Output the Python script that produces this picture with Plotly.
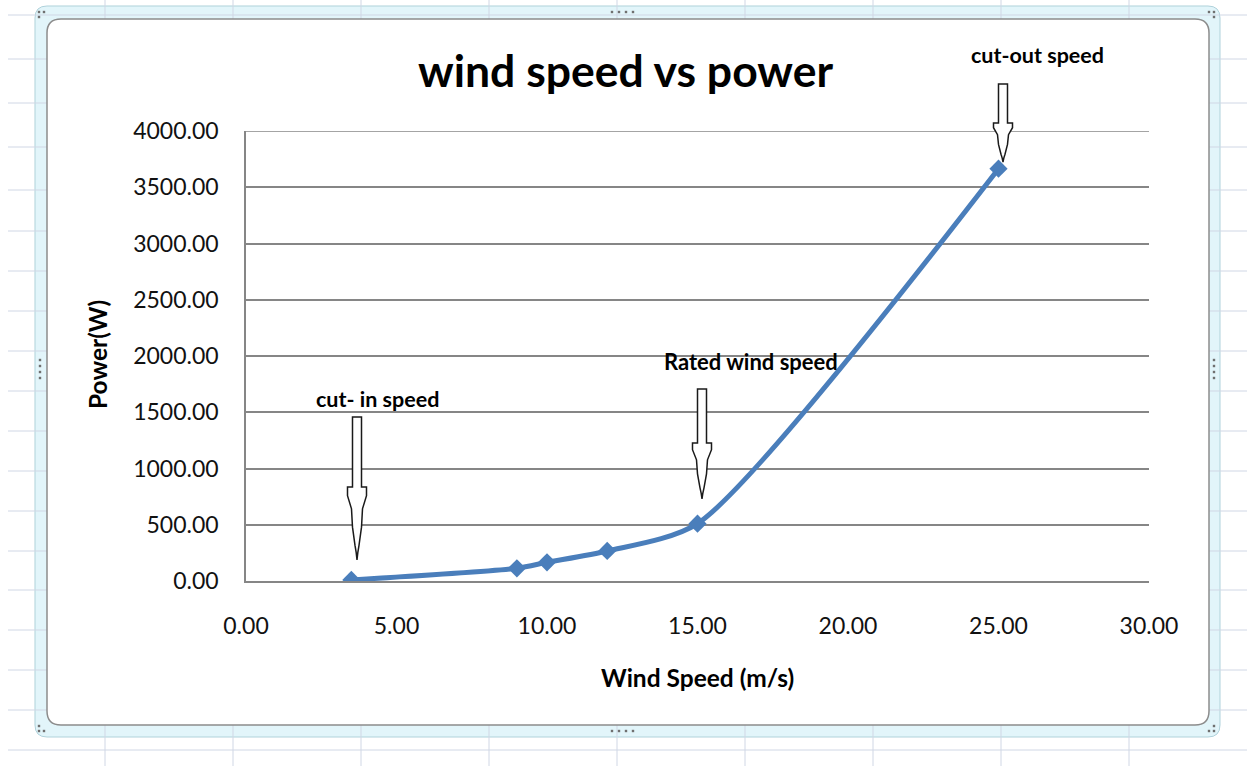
import plotly.graph_objects as go

# ---- data ----
wind_speed = [3.5, 9.0, 10.0, 12.0, 15.0, 25.0]
power_w = [10, 113, 166, 267, 510, 3665]

x_ticks = [0, 5, 10, 15, 20, 25, 30]
y_ticks = [0, 500, 1000, 1500, 2000, 2500, 3000, 3500, 4000]

title_text = "wind speed vs power"
x_title = "Wind Speed (m/s)"
y_title = "Power(W)"
note_labels = ["cut- in speed", "Rated wind speed", "cut-out speed"]

# ---- geometry (pixels) ----
W, H = 1247, 766
PL, PR, PT, PB = 246, 1149, 131, 581
PW, PH = PR - PL, PB - PT


def P(px, py):
    return ((px - PL) / PW, (PB - py) / PH)


def path_of(points, close=True):
    s = ""
    for cmd, pts in points:
        s += cmd + " " + " ".join(f"{P(a, b)[0]:.5f},{P(a, b)[1]:.5f}" for a, b in pts) + " "
    if close:
        s += "Z"
    return s


def rrect(x0, y0, x1, y1, r):
    return path_of([
        ("M", [(x0 + r, y0)]), ("L", [(x1 - r, y0)]), ("Q", [(x1, y0), (x1, y0 + r)]),
        ("L", [(x1, y1 - r)]), ("Q", [(x1, y1), (x1 - r, y1)]),
        ("L", [(x0 + r, y1)]), ("Q", [(x0, y1), (x0, y1 - r)]),
        ("L", [(x0, y0 + r)]), ("Q", [(x0, y0), (x0 + r, y0)]),
    ])


def arrow(cx, top, sh, tip):
    h = tip - sh
    right = [(4.5, top), (4.5, sh), (9.5, sh), (9.5, sh + 0.12 * h), (5.5, sh + 0.3 * h),
             (4.5, sh + 0.55 * h), (2.0, sh + 0.8 * h), (0.8, sh + 0.9 * h)]
    pts = [(cx + dx, y) for dx, y in right] + [(cx, tip)] + [(cx - dx, y) for dx, y in reversed(right)]
    return path_of([("M", [pts[0]])] + [("L", [p]) for p in pts[1:]])


shapes = []
# outer chart frame (light cyan)
shapes.append(dict(type="path", xref="paper", yref="paper", layer="below",
                   path=rrect(35, 6, 1220, 737, 12), fillcolor="#e2f5fa",
                   line=dict(color="#b0d2db", width=1)))
# spreadsheet grid
row_lines = [15, 59, 103, 147, 190, 231, 271, 311, 351, 391, 431, 471, 511, 551, 590, 630, 670, 710, 750]
col_lines = [105, 233, 361, 489, 617, 745, 873, 1001, 1129]
for ry in row_lines:
    x0, y0 = P(8, ry)
    x1, _ = P(W, ry)
    shapes.append(dict(type="line", xref="paper", yref="paper", layer="below",
                       x0=x0, x1=x1, y0=y0, y1=y0, line=dict(color="#d0d7e5", width=1)))
for cx in col_lines:
    x0, y0 = P(cx, 0)
    _, y1 = P(cx, H)
    shapes.append(dict(type="line", xref="paper", yref="paper", layer="below",
                       x0=x0, x1=x0, y0=y0, y1=y1, line=dict(color="#d0d7e5", width=1)))
# inner white chart area
shapes.append(dict(type="path", xref="paper", yref="paper", layer="below",
                   path=rrect(47, 19, 1209, 725, 14), fillcolor="white",
                   line=dict(color="#8c8c8c", width=1.5)))
# handle dots
dots = [(612, 12), (619, 12), (626, 12), (633, 12), (612, 731), (619, 731), (626, 731), (633, 731),
        (40, 360), (40, 366), (40, 372), (40, 378), (1214, 360), (1214, 366), (1214, 372), (1214, 378),
        (39, 12), (44, 12), (39, 17), (1209, 12), (1214, 12), (1214, 17),
        (39, 726), (39, 731), (44, 731), (1214, 726), (1209, 731), (1214, 731)]
for dx, dy in dots:
    a = P(dx - 1.2, dy - 1.2)
    b = P(dx + 1.2, dy + 1.2)
    shapes.append(dict(type="rect", xref="paper", yref="paper", layer="below",
                       x0=a[0], x1=b[0], y0=b[1], y1=a[1], fillcolor="#707070", line=dict(width=0)))
# top gridline at the last y tick (plotly drops gridlines at the range edge)
shapes.append(dict(type="line", xref="x domain", yref="y", layer="below",
                   x0=0, x1=1, y0=y_ticks[-1], y1=y_ticks[-1],
                   line=dict(color="#868686", width=1.5)))
# block arrows
for cx, top, sh, tip in [(357, 417, 487, 560), (702, 389, 443, 499), (1003, 84, 123, 162)]:
    shapes.append(dict(type="path", xref="paper", yref="paper", layer="above",
                       path=arrow(cx, top, sh, tip), fillcolor="white",
                       line=dict(color="#1a1a1a", width=1.5)))

fig = go.Figure()
fig.add_trace(go.Scatter(
    x=wind_speed, y=power_w, mode="lines+markers",
    line=dict(color="#4a7ebb", width=5, shape="spline", smoothing=0.7),
    marker=dict(symbol="diamond", size=14, color="#4a7ebb"),
    hoverinfo="skip",
))

tick_font = dict(family="Lato", size=23, color="#111111")
fig.update_xaxes(range=[0, 30], tickvals=x_ticks, ticktext=[f"{v:.2f}" for v in x_ticks],
                 showgrid=False, zeroline=False, showline=True, linecolor="#868686", linewidth=1.5,
                 ticks="", ticklabelstandoff=24, tickfont=tick_font, fixedrange=True)
fig.update_yaxes(range=[0, 4000], tickvals=y_ticks, ticktext=[f"{v:.2f}" for v in y_ticks],
                 showgrid=True, gridcolor="#868686", gridwidth=1.5, zeroline=False,
                 showline=True, linecolor="#868686", linewidth=1.5,
                 ticks="", ticklabelstandoff=21, tickfont=tick_font, fixedrange=True)

bold = dict(family="Lato", color="#000000", weight="bold")
annotations = []


def add_text(text, px, py, size, angle=0):
    x, y = P(px, py)
    annotations.append(dict(text=text, x=x, y=y, xref="paper", yref="paper", showarrow=False,
                            xanchor="center", yanchor="middle", textangle=angle,
                            font=dict(size=size, **bold)))


add_text(title_text, 625, 70, 44.5)
add_text(x_title, 697, 677, 24.5)
add_text(y_title, 97, 355, 24.5, angle=-90)
add_text(note_labels[0], 377, 399, 21.5)
add_text(note_labels[1], 751, 361, 22)
add_text(note_labels[2], 1037, 55, 21.5)

fig.update_layout(width=W, height=H, autosize=False,
                  margin=dict(l=PL, r=W - PR, t=PT, b=H - PB),
                  paper_bgcolor="white", plot_bgcolor="rgba(0,0,0,0)",
                  showlegend=False, shapes=shapes, annotations=annotations)

fig.write_html("out.html", config={"displayModeBar": False})
